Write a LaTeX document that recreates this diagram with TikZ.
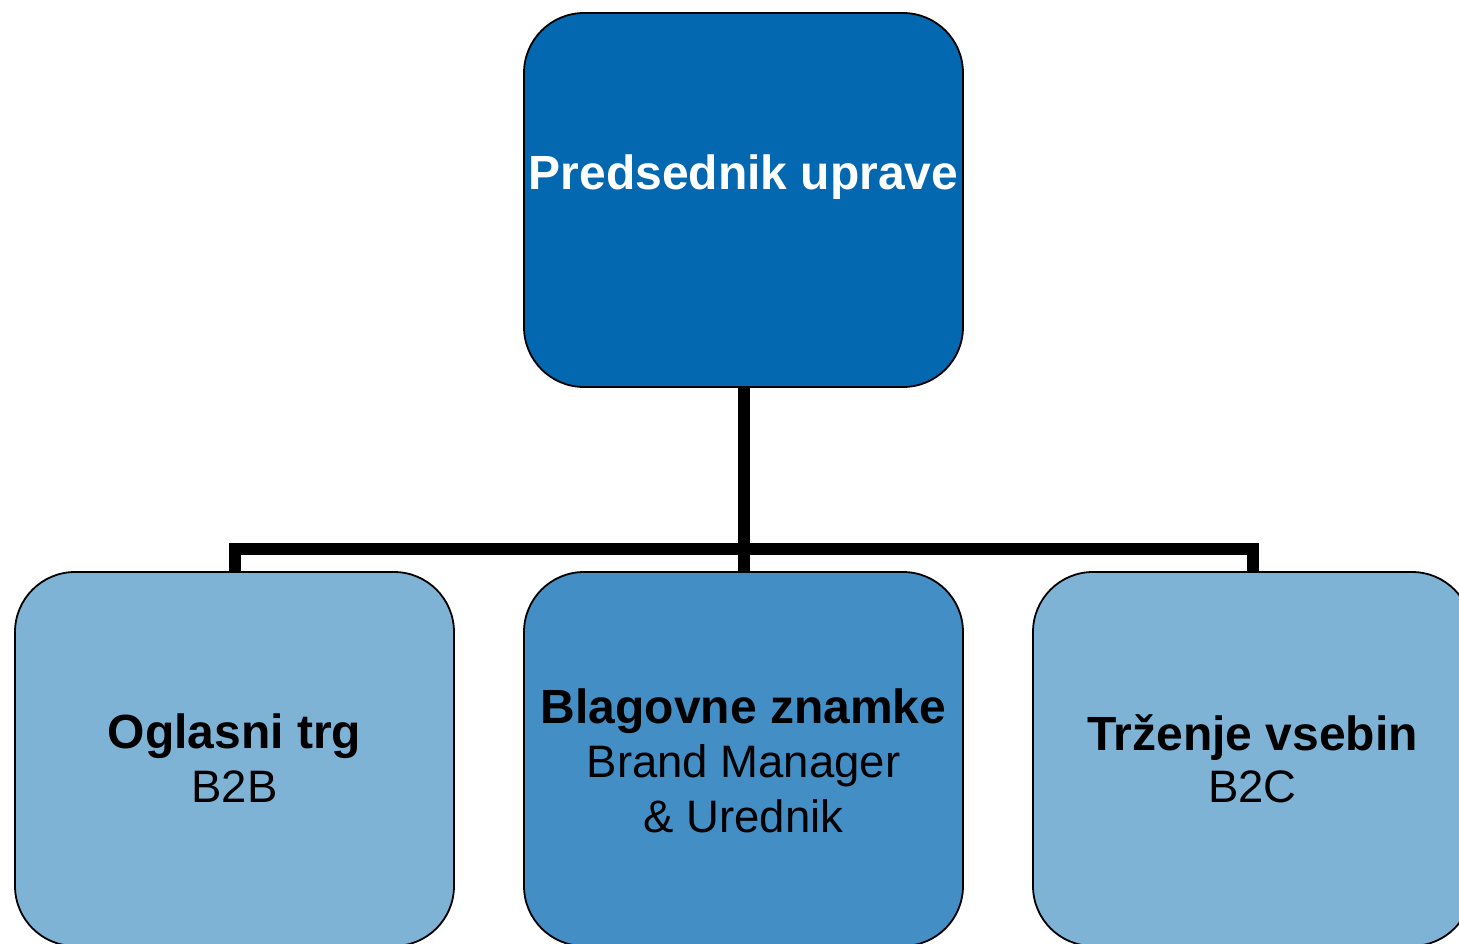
\documentclass[tikz,border=0pt]{standalone}
\usepackage{fontspec}
\setmainfont{Liberation Sans}
\definecolor{topblue}{RGB}{4,104,176}
\definecolor{midblue}{RGB}{66,142,197}
\definecolor{lightblue}{RGB}{127,179,214}
\tikzset{
  orgbox/.style={draw=black, line width=1.8pt, rounded corners=60pt, minimum width=439pt, minimum height=374pt, inner sep=0pt},
  conn/.style={line width=12pt, draw=black, line join=miter},
  boldtxt/.style={anchor=base, inner sep=0pt, font=\bfseries\fontsize{48}{57}\selectfont},
  regtxt/.style={anchor=base, inner sep=0pt, font=\fontsize{45.5}{54}\selectfont}
}
\begin{document}
\begin{tikzpicture}[x=1pt,y=-1pt]
\useasboundingbox (0,0) rectangle (1459,943);
% coordinates for the bus
\coordinate (bus) at (743.5,549);
% connectors (drawn below boxes)
\node[orgbox, draw=none, fill=none] (topg) at (743.5,200) {};
\node[orgbox, draw=none, fill=none] (leftg) at (234.5,759) {};
\node[orgbox, draw=none, fill=none] (midg) at (743.5,759) {};
\node[orgbox, draw=none, fill=none] (rightg) at (1252.5,759) {};
\draw[conn] (topg.south) -- (midg.north);
\draw[conn] (leftg.north) -- (leftg.north |- bus) -- (rightg.north |- bus) -- (rightg.north);
% boxes
\node[orgbox, fill=topblue] (top) at (743.5,200) {};
\node[orgbox, fill=lightblue] (left) at (234.5,759) {};
\node[orgbox, fill=midblue] (mid) at (743.5,759) {};
\node[orgbox, fill=lightblue] (right) at (1252.5,759) {};
% texts
\node[boldtxt, text=white] (t0) at (743.5,189) {Predsednik uprave};
\node[boldtxt] (l1) at (234.5,748) {Oglasni trg};
\node[regtxt] (l2) at (234.5,802) {B2B};
\node[boldtxt] (m1) at (743.5,723) {Blagovne znamke};
\node[regtxt] (m2) at (743.5,777) {Brand Manager};
\node[regtxt] (m3) at (743.5,832) {\& Urednik};
\node[boldtxt] (r1) at (1252.5,750) {Trženje vsebin};
\node[regtxt] (r2) at (1252.5,802) {B2C};
\end{tikzpicture}
\end{document}
